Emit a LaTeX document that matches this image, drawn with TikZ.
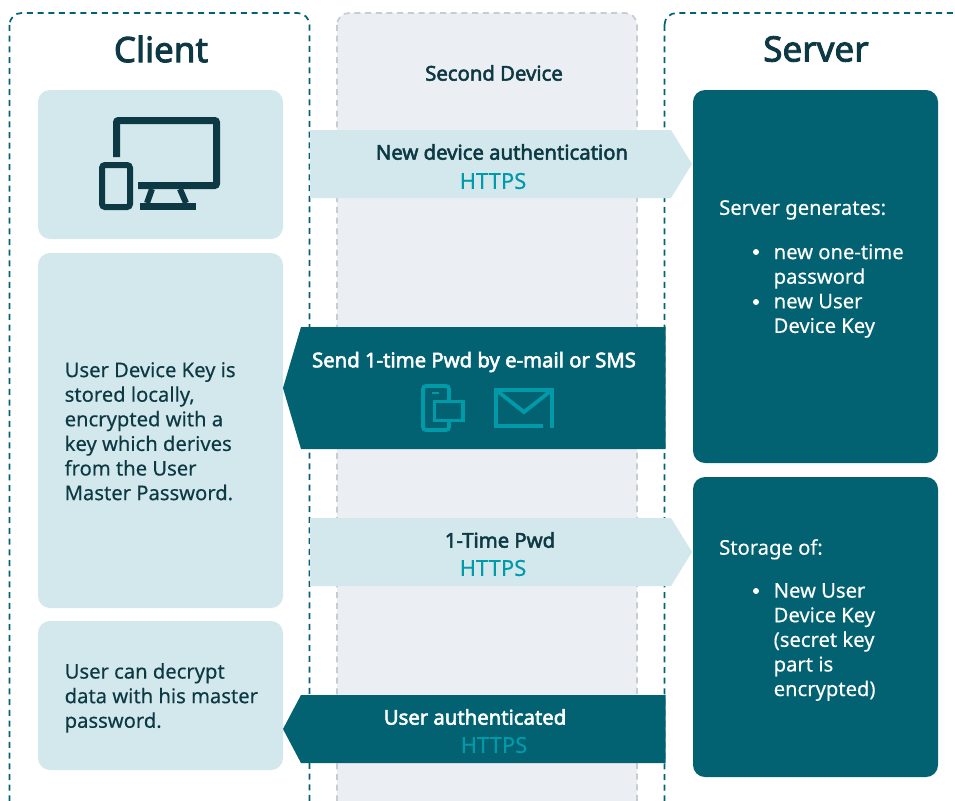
\documentclass[tikz,border=0pt]{standalone}
\usepackage{fontspec}
\setmainfont{Noto Sans}
\newfontfamily\medfont[FakeBold=2.6]{Noto Sans}
\newfontfamily\bodyfont[FakeBold=0.3]{Noto Sans}
\definecolor{lightbox}{HTML}{D2E8EC}
\definecolor{darkbox}{HTML}{036272}
\definecolor{inkdark}{HTML}{0D3944}
\definecolor{accent}{HTML}{009AA9}
\definecolor{midpanel}{HTML}{EBEFF3}
\definecolor{midedge}{HTML}{C5CCD3}
\tikzset{
  panel/.style={draw=darkbox,line width=1.7pt,dash pattern=on 6pt off 4.7pt,rounded corners=12pt},
  box/.style={rounded corners=12pt},
  title/.style={font=\medfont\fontsize{35}{42}\selectfont,text=inkdark,inner sep=0pt},
  head/.style={font=\medfont\fontsize{20.3}{24}\selectfont,inner sep=0pt},
  proto/.style={font=\bodyfont\fontsize{22}{26}\selectfont,text=accent,inner sep=0pt},
  body/.style={font=\bodyfont\fontsize{20.2}{24.6}\selectfont,align=left,anchor=north west,inner sep=0pt},
  icon/.style={draw=inkdark,line width=7pt,line cap=butt},
  iconb/.style={draw=accent,line width=3.8pt}
}
\begin{document}
\begin{tikzpicture}[x=1pt,y=-1pt]
        \useasboundingbox (0,0) rectangle (955,800);
        \fill[white](0,0)rectangle(955,800);
        % the three columns
        \draw[panel,fill=white](9.5,13)rectangle(309.5,830);
        \draw[panel,draw=midedge,fill=midpanel](337,13)rectangle(637,830);
        \draw[panel,fill=white](664.5,13)rectangle(990,830);
        \node[title](client)at(161,49){Client};
        \node[title](server)at(816,49){Server};
        \node[head,text=inkdark](second)at(494,73){Second Device};

        \fill[box,lightbox](38,90)rectangle(283,239);
        \fill[box,lightbox](38,253)rectangle(283,608);
        \fill[box,lightbox](38,621)rectangle(283,770);
        \fill[box,darkbox](693,90)rectangle(938,463);
        \fill[box,darkbox](693,477)rectangle(938,777);

        % arrows between the columns
        \fill[lightbox](310,130)--(671,130)--(692,164)--(671,198)--(310,198)--cycle;
        \fill[lightbox](310,518)--(671,518)--(692,552)--(671,586)--(310,586)--cycle;
        \fill[darkbox](665.5,327)--(301,327)--(283,388)--(301,449)--(665.5,449)--cycle;
        \fill[darkbox](665.5,695)--(301,695)--(283,729)--(301,763)--(665.5,763)--cycle;

        \node[head,text=inkdark](auth)at(502,152){New device authentication};
        \node[proto](authp)at(493,181){HTTPS};
        \node[head,text=white](send)at(474,362){Send 1-time Pwd by e-mail or SMS};
        \node[head,text=inkdark](pwd)at(500,540){1-Time Pwd};
        \node[proto](pwdp)at(493,568){HTTPS};
        \node[head,text=white](done)at(475,717){User authenticated};
        \node[proto](donep)at(494,745){HTTPS};

        \node[body,text=inkdark](stored)at(64.5,362){User Device Key is\\stored locally,\\encrypted with a\\key which derives\\from the User\\Master Password.};
        \node[body,text=inkdark](decrypt)at(64.5,663){User can decrypt\\data with his master\\password.};
        \node[body,text=white](gen)at(719,200){Server generates:};
        \node[body,text=white](otp)at(773.5,244){new one-time\\password\\new User\\Device Key};
        \node[body,text=white](store)at(719,539){Storage of:};
        \node[body,text=white](key)at(773.5,583){New User\\Device Key\\(secret key\\part is\\encrypted)};
        \foreach \y in {252,302,591} \fill[white](756,\y)circle(3pt);

        % devices icon
        \draw[icon,rounded corners=2pt](116.5,157)--(116.5,120.5)--(216.5,120.5)--(216.5,185.5)--(138,185.5);
        \draw[icon,line width=6pt](152,189)--(147,203);
        \draw[icon,line width=6pt](180,189)--(186,203);
        \fill[inkdark](140,202.5)rectangle(196,210);
        \draw[icon,line width=6pt,rounded corners=3pt](102,165)rectangle(130,207);

        % phone and envelope icons
        \draw[iconb,rounded corners=3pt](449,400)--(449,386)--(423,386)--(423,430)--(449,430)--(449,422);
        \draw[iconb](434.5,401.5)rectangle(463,420.5);
        \draw[accent,line width=2pt](432,393)--(439,393);
        \draw[iconb](543,426)--(496,426)--(496,390)--(552,390)--(552,428);
        \draw[iconb](496,390)--(524,412)--(552,390);
    \end{tikzpicture}
\end{document}
